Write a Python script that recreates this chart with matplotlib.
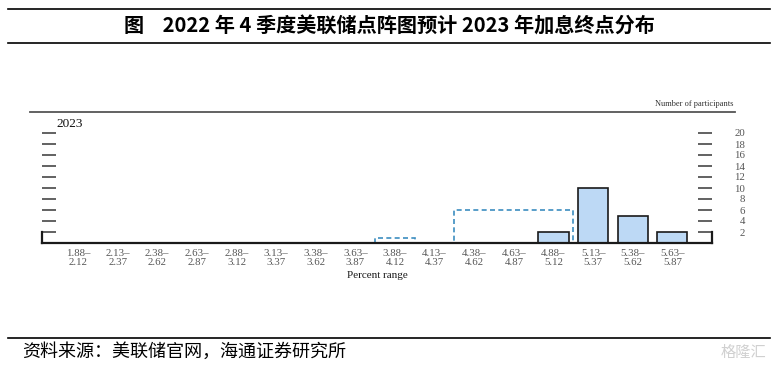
import matplotlib
matplotlib.use("Agg")
import matplotlib.pyplot as plt
import numpy as np

# ---- data ----
bins_lo = ["1.88", "2.13", "2.38", "2.63", "2.88", "3.13", "3.38", "3.63",
           "3.88", "4.13", "4.38", "4.63", "4.88", "5.13", "5.38", "5.63"]
bins_hi = ["2.12", "2.37", "2.62", "2.87", "3.12", "3.37", "3.62", "3.87",
           "4.12", "4.37", "4.62", "4.87", "5.12", "5.37", "5.62", "5.87"]
dec_counts = [0, 0, 0, 0, 0, 0, 0, 0, 0, 0, 0, 0, 2, 10, 5, 2]
sep_counts = [0, 0, 0, 0, 0, 0, 0, 0, 1, 0, 6, 6, 6, 0, 0, 0]
yticks = [2, 4, 6, 8, 10, 12, 14, 16, 18, 20]

title = "图    2022 年 4 季度美联储点阵图预计 2023 年加息终点分布"
source = "资料来源：美联储官网，海通证券研究所"

W, H = 777, 369
fig = plt.figure(figsize=(W / 100, H / 100), dpi=100)

def fx(px):
    return px / W

def fy(py):
    return 1 - py / H

cjk = ["Noto Sans CJK SC", "DejaVu Sans"]
serif = ["Liberation Serif", "DejaVu Serif"]

# axes region in pixels
L, R, T, B = 42, 712, 112, 243
ax = fig.add_axes([fx(L), fy(B), fx(R) - fx(L), fy(T) - fy(B)])

x = np.arange(len(bins_lo))
ax.bar(x, dec_counts, width=0.76, color="#BDD9F5", edgecolor="#1a1a1a",
       linewidth=1.2, zorder=3)
ax.stairs(sep_counts, np.arange(len(bins_lo) + 1) - 0.5, baseline=0,
          fill=False, edgecolor="#3C8DC0", linestyle=(0, (3, 2)),
          linewidth=1.2, zorder=2)

ax.set_xlim(-0.91, 16.0)
ax.set_ylim(0, (B - T) / 5.5)

ax.set_xticks(x)
ax.set_xticklabels([f"{a}–\n{b}" for a, b in zip(bins_lo, bins_hi)],
                   fontfamily=serif, fontsize=7.8, color="#555555",
                   linespacing=1.1)
ax.tick_params(axis="x", length=0, pad=4)

ax.set_yticks(yticks)
ax.yaxis.tick_right()
ax.tick_params(axis="y", which="both", direction="in", length=10, width=1.3,
               color="#555555", left=True, right=True, labelleft=False,
               labelright=True, pad=24, labelsize=7.8, labelcolor="#555555")
for lab in ax.get_yticklabels():
    lab.set_horizontalalignment("right")
    lab.set_fontfamily(serif)

ax.spines["top"].set_visible(False)
ax.spines["left"].set_bounds(0, 2)
ax.spines["right"].set_bounds(0, 2)
for s in ["left", "right", "bottom"]:
    ax.spines[s].set_color("#1a1a1a")
    ax.spines[s].set_linewidth(1.6)
    ax.spines[s].set_zorder(4)

ax.set_xlabel("Percent range", fontfamily=serif, fontsize=8, color="#1a1a1a",
              labelpad=3)

# top rule of the chart panel
fig.add_artist(plt.Line2D([fx(30), fx(735)], [fy(112), fy(112)],
                          color="#555555", linewidth=1.3))
fig.text(fx(733), fy(104), "Number of participants", ha="right", va="center",
         fontfamily=serif, fontsize=6, color="#333333")
fig.text(fx(56), fy(124), "2023", ha="left", va="center",
         fontfamily=serif, fontsize=9.5, color="#111111")

# title block
fig.add_artist(plt.Line2D([fx(8), fx(770)], [fy(9), fy(9)], color="black", linewidth=1.2))
fig.add_artist(plt.Line2D([fx(8), fx(770)], [fy(43), fy(43)], color="black", linewidth=1.2))
fig.text(fx(389), fy(26), title, ha="center", va="center",
         fontfamily=cjk, fontsize=14.5, fontweight="bold", color="black")

# footer
fig.add_artist(plt.Line2D([fx(8), fx(770)], [fy(338), fy(338)], color="black", linewidth=1.2))
fig.text(fx(22), fy(352), source, ha="left", va="center",
         fontfamily=cjk, fontsize=13, color="black")
fig.text(fx(766), fy(352), "格隆汇", ha="right", va="center",
         fontfamily=cjk, fontsize=11, color="#d0d0d0")

fig.savefig("out.png", dpi=100)
